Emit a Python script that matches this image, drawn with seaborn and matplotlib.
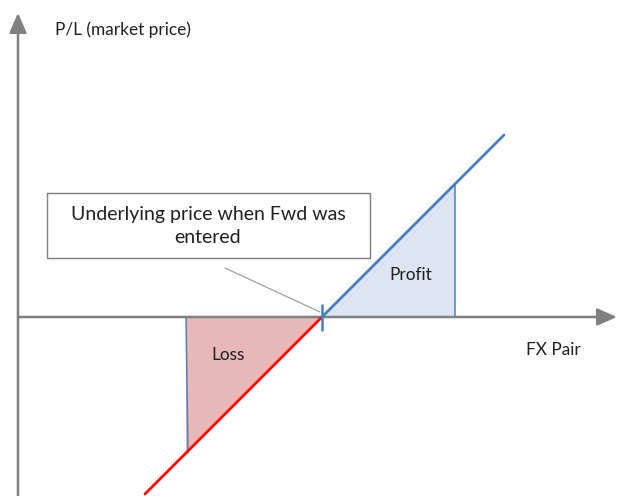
import matplotlib.pyplot as plt
import seaborn as sns
import pandas as pd
from matplotlib.patches import Rectangle

# payoff of a long forward: P/L = spot - strike (abstract units)
strike = 0.0
loss_spot = [-17.7, 0.0]
profit_spot = [0.0, 18.2]
loss_edge = -13.6      # left edge of shaded loss area
profit_edge = 13.3     # right edge of shaded profit area

axis_x = -30.4         # where the P/L axis sits
x_range = [-32.2, 29.5]
y_range = [-17.9, 31.7]

callout = 'Underlying price when Fwd was\nentered'
y_label = 'P/L (market price)'
x_label = 'FX Pair'

sns.set_theme(style='white')
plt.rcParams['font.family'] = ['Lato', 'DejaVu Sans']

fig = plt.figure(figsize=(6.17, 4.96), dpi=100)
ax = fig.add_axes([0, 0, 1, 1])
ax.set_xlim(x_range)
ax.set_ylim(y_range)
ax.axis('off')

loss = pd.DataFrame({'spot': loss_spot, 'pl': [s - strike for s in loss_spot]})
profit = pd.DataFrame({'spot': profit_spot, 'pl': [s - strike for s in profit_spot]})

# shaded triangles
ax.fill([loss_edge, strike, loss_edge], [0, 0, loss_edge - strike],
        color='#e6b8b7', lw=0, zorder=1)
ax.plot([loss_edge, loss_edge + 0.2], [0, loss_edge - strike], color='#4f81bd', lw=1.1, zorder=2)
ax.fill([strike, profit_edge, profit_edge], [0, 0, profit_edge - strike],
        color='#dce6f2', lw=0, zorder=1)
ax.plot([profit_edge, profit_edge], [0, profit_edge - strike], color='#4f81bd', lw=1.1, zorder=2)

# axes with arrow heads
arrow = dict(arrowstyle='-|>,head_length=0.8,head_width=0.35', mutation_scale=15,
             color='#808080', lw=1.8, shrinkA=0, shrinkB=0)
ax.annotate('', xy=(x_range[1], 0), xytext=(axis_x, 0), arrowprops=arrow, zorder=3)
ax.annotate('', xy=(axis_x, 30.4), xytext=(axis_x, y_range[0]), arrowprops=arrow, zorder=3)

# payoff lines
sns.lineplot(data=loss, x='spot', y='pl', color='#ff0000', lw=2, ax=ax, zorder=4)
sns.lineplot(data=profit, x='spot', y='pl', color='#4a7ebb', lw=2, ax=ax, zorder=4)
ax.plot([strike, strike], [1.2, -1.3], color='#4a7ebb', lw=1.8, zorder=5)

# callout
ax.add_patch(Rectangle((-27.5, 5.9), 32.3, 6.5, fc='white', ec='#7f7f7f', lw=1, zorder=3))
ax.text(-11.4, 9.1, callout, ha='center', va='center', fontsize=14, linespacing=1.45,
        color='#1f1f1f', zorder=4)
ax.plot([-9.7, strike - 0.2], [4.9, 0.5], color='#a0a0a0', lw=0.9, zorder=3)

ax.text(-26.7, 28.7, y_label, ha='left', va='center', fontsize=12.4, color='#1f1f1f')
ax.text(23.1, -3.3, x_label, ha='center', va='center', fontsize=12.4, color='#1f1f1f')
ax.text(-9.4, -3.8, 'Loss', ha='center', va='center', fontsize=12.4, color='#1f1f1f')
ax.text(8.9, 4.2, 'Profit', ha='center', va='center', fontsize=12.4, color='#1f1f1f')

fig.savefig('out.png', dpi=100)
